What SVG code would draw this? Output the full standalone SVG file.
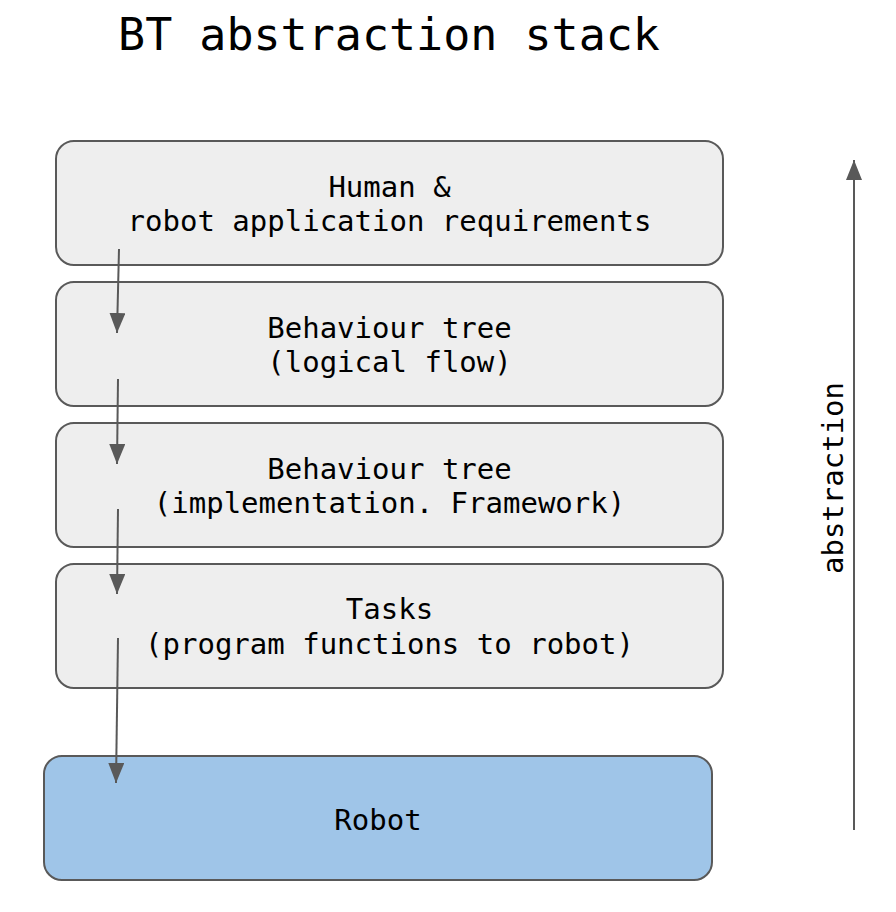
<svg xmlns="http://www.w3.org/2000/svg" width="896" height="912" viewBox="0 0 896 912">
<style>
.box{fill:#eeeeee;stroke:#595959;stroke-width:2}
.robot{fill:#9fc5e8;stroke:#595959;stroke-width:2}
.t{font-family:"DejaVu Sans Mono","Liberation Mono",monospace;font-size:29px;fill:#000;text-anchor:middle}
.title{font-family:"DejaVu Sans Mono","Liberation Mono",monospace;font-size:45px;fill:#000;text-anchor:middle}
.c{stroke:#595959;stroke-width:2;fill:none}
</style>
<defs>
<marker id="arr" viewBox="0 0 20 16" refX="20" refY="8" markerWidth="20" markerHeight="16" markerUnits="userSpaceOnUse" orient="auto">
<path d="M0,0 L20,8 L0,16 Z" fill="#595959"/>
</marker>
</defs>
<rect width="896" height="912" fill="#ffffff"/>
<text class="title" x="389" y="50">BT abstraction stack</text>
<g id="n1"><rect class="box" x="56" y="141" width="667" height="124" rx="18"/>
<text class="t" x="389.5" y="197">Human &amp;</text>
<text class="t" x="389.5" y="231">robot application requirements</text></g>
<g id="n2"><rect class="box" x="56" y="282" width="667" height="124" rx="18"/>
<text class="t" x="389.5" y="338">Behaviour tree</text>
<text class="t" x="389.5" y="372">(logical flow)</text></g>
<g id="n3"><rect class="box" x="56" y="423" width="667" height="124" rx="18"/>
<text class="t" x="389.5" y="479">Behaviour tree</text>
<text class="t" x="389.5" y="513">(implementation. Framework)</text></g>
<g id="n4"><rect class="box" x="56" y="564" width="667" height="124" rx="18"/>
<text class="t" x="389.5" y="619">Tasks</text>
<text class="t" x="389.5" y="654">(program functions to robot)</text></g>
<g id="n5"><rect class="robot" x="44" y="756" width="668" height="124" rx="18"/>
<text class="t" x="378" y="830">Robot</text></g>
<g id="abs"><text class="t" transform="translate(843,478) rotate(-90)">abstraction</text></g>
<g id="connectors">
<line class="c" x1="119" y1="249" x2="117" y2="333" marker-end="url(#arr)"/>
<line class="c" x1="118" y1="379" x2="117" y2="464" marker-end="url(#arr)"/>
<line class="c" x1="118" y1="509" x2="117" y2="594" marker-end="url(#arr)"/>
<line class="c" x1="118" y1="638" x2="116" y2="783" marker-end="url(#arr)"/>
<line class="c" x1="854" y1="830" x2="854" y2="160" marker-end="url(#arr)"/>
</g>
</svg>
